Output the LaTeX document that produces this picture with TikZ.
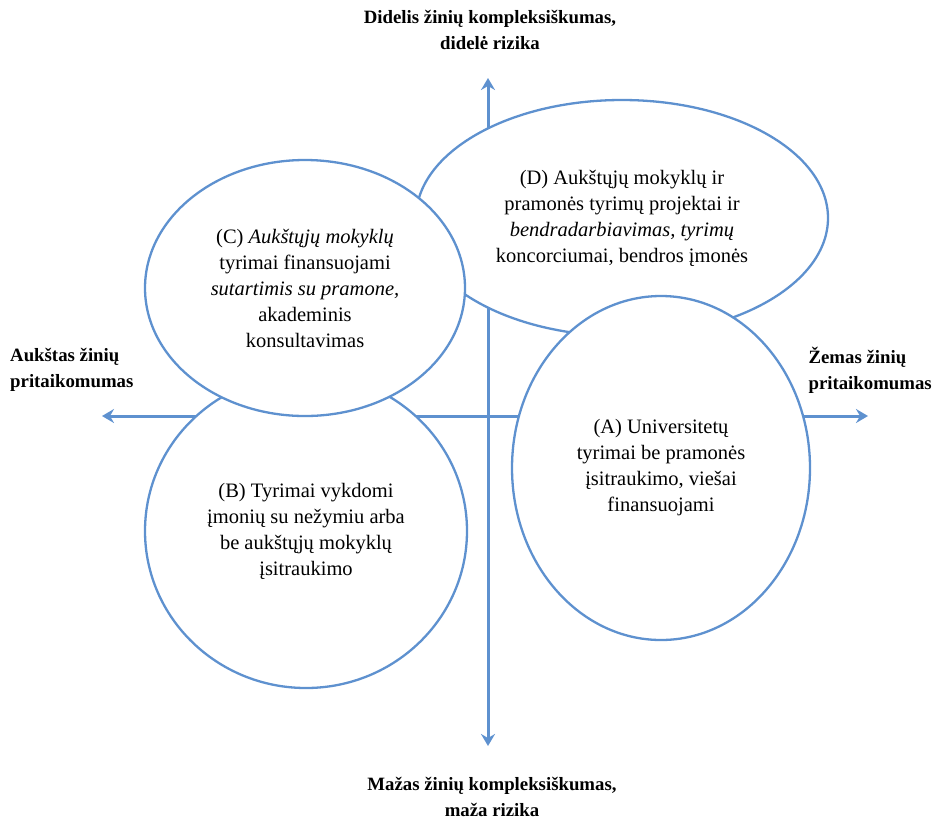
\documentclass[tikz,border=0pt]{standalone}
\usepackage{fontspec}
\setmainfont{Liberation Serif}
\usetikzlibrary{shapes.geometric,arrows.meta}
\definecolor{linkblue}{RGB}{94,145,207}
\begin{document}
\begin{tikzpicture}[x=1pt,y=-1pt,
  region/.style={ellipse, draw=linkblue, line width=2.3pt, fill=white,
    inner sep=0pt, align=center, font=\fontsize{20.5}{26}\selectfont},
  axis/.style={draw=linkblue, line width=3pt,
    -{Stealth[length=12pt,width=14pt,inset=4pt]}},
  axlabel/.style={inner sep=0pt, font=\bfseries\fontsize{18.8}{26}\selectfont}]
\useasboundingbox (0,0) rectangle (936,820);

% axes
\coordinate (o) at (488,416);
\coordinate (top) at (488,78);
\coordinate (bottom) at (488,746);
\coordinate (left) at (102,416);
\coordinate (right) at (868,416);
\draw[axis] (o) -- (top);
\draw[axis] (o) -- (bottom);
\draw[axis] (o) -- (left);
\draw[axis] (o) -- (right);

% quadrant regions, later ones on top
\node[region, minimum width=322pt, minimum height=314pt] (b) at (306,531)
  {(B) Tyrimai vykdomi\\ įmonių su nežymiu arba\\ be aukštųjų mokyklų\\ įsitraukimo};
\node[region, minimum width=412pt, minimum height=236pt] (d) at (622,218)
  {(D) Aukštųjų mokyklų ir\\ pramonės tyrimų projektai ir\\ \textit{bendradarbiavimas, tyrimų}\\ koncorciumai, bendros įmonės};
\node[region, minimum width=320pt, minimum height=256pt] (c) at (305,288)
  {(C) \textit{Aukštųjų mokyklų}\\ tyrimai finansuojami\\ \textit{sutartimis su pramone,}\\ akademinis\\ konsultavimas};
\node[region, minimum width=298pt, minimum height=344pt] (a) at (661,468)
  {(A) Universitetų\\ tyrimai be pramonės\\ įsitraukimo, viešai\\ finansuojami};

% axis captions
\node[axlabel, align=center] (ltop) at (490,30)
  {Didelis žinių kompleksiškumas,\\ didelė rizika};
\node[axlabel, align=center] (lbottom) at (492,797)
  {Mažas žinių kompleksiškumas,\\ maža rizika};
\node[axlabel, align=left, anchor=west] (lleft) at (10,370)
  {Aukštas žinių\\ pritaikomumas};
\node[axlabel, align=left, anchor=east] (lright) at (932,370)
  {Žemas žinių\\ pritaikomumas};
\end{tikzpicture}
\end{document}
